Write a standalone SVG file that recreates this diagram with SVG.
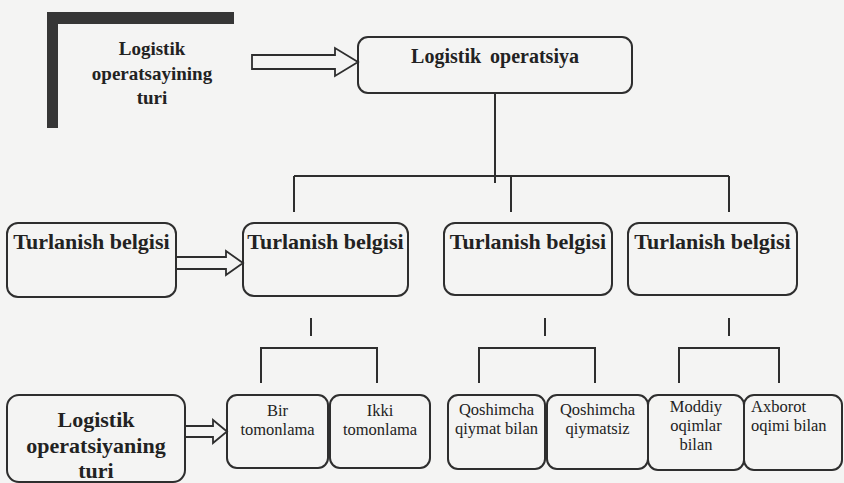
<svg xmlns="http://www.w3.org/2000/svg" width="844" height="483" viewBox="0 0 844 483">
<style>
.box{fill:none;stroke:#2e2e2e;stroke-width:2}
.ln{fill:none;stroke:#2e2e2e;stroke-width:2}
.arr{fill:none;stroke:#2e2e2e;stroke-width:1.8;stroke-linejoin:miter}
.b{font-family:"Liberation Serif","Times New Roman",serif;font-weight:bold;fill:#222;text-anchor:middle}
.r{font-family:"Liberation Serif","Times New Roman",serif;font-size:16.5px;fill:#222;text-anchor:middle}
.rs{font-family:"Liberation Serif","Times New Roman",serif;font-size:16.5px;fill:#222;text-anchor:start}
</style>
<rect x="0" y="0" width="844" height="483" fill="#f4f4f3"/>

<g id="title-label">
  <rect x="47" y="12" width="187" height="12" fill="#363636"/>
  <rect x="47" y="12" width="11" height="116" fill="#363636"/>
  <text class="b" x="152" y="55" font-size="19">Logistik</text>
  <text class="b" x="152" y="80" font-size="19">operatsayining</text>
  <text class="b" x="152" y="104" font-size="19">turi</text>
</g>

<g id="logistik-operatsiya">
  <rect class="box" x="358" y="37" width="274" height="56" rx="10"/>
  <text class="b" x="495" y="63" font-size="20" word-spacing="4">Logistik operatsiya</text>
</g>

<g id="turlanish-0">
  <rect class="box" x="7" y="223" width="169" height="74" rx="11"/>
  <text class="b" x="91.5" y="249" font-size="22">Turlanish belgisi</text>
</g>
<g id="turlanish-1">
  <rect class="box" x="243" y="223" width="165" height="73" rx="11"/>
  <text class="b" x="325.5" y="249" font-size="22">Turlanish belgisi</text>
</g>
<g id="turlanish-2">
  <rect class="box" x="444" y="223" width="168" height="72" rx="11"/>
  <text class="b" x="528" y="249" font-size="22">Turlanish belgisi</text>
</g>
<g id="turlanish-3">
  <rect class="box" x="628" y="223" width="169" height="72" rx="11"/>
  <text class="b" x="712.5" y="249" font-size="22">Turlanish belgisi</text>
</g>

<g id="logistik-operatsiyaning-turi">
  <rect class="box" x="7" y="395" width="178" height="87" rx="12"/>
  <text class="b" x="96" y="427" font-size="22">Logistik</text>
  <text class="b" x="96" y="453" font-size="22">operatsiyaning</text>
  <text class="b" x="96" y="478" font-size="22">turi</text>
</g>

<g id="bir-tomonlama">
  <rect class="box" x="227" y="395" width="101" height="73" rx="10"/>
  <text class="r" x="277.5" y="416">Bir</text>
  <text class="r" x="277.5" y="435">tomonlama</text>
</g>
<g id="ikki-tomonlama">
  <rect class="box" x="330" y="395" width="100" height="73" rx="10"/>
  <text class="r" x="380" y="416">Ikki</text>
  <text class="r" x="380" y="435">tomonlama</text>
</g>
<g id="qoshimcha-qiymat-bilan">
  <rect class="box" x="448" y="395" width="97" height="74" rx="10"/>
  <text class="r" x="496.5" y="415">Qoshimcha</text>
  <text class="r" x="496.5" y="434">qiymat bilan</text>
</g>
<g id="qoshimcha-qiymatsiz">
  <rect class="box" x="547" y="395" width="101" height="74" rx="10"/>
  <text class="r" x="597.5" y="415">Qoshimcha</text>
  <text class="r" x="597.5" y="434">qiymatsiz</text>
</g>
<g id="moddiy-oqimlar-bilan">
  <rect class="box" x="648" y="395" width="96" height="75" rx="10"/>
  <text class="r" x="696" y="412">Moddiy</text>
  <text class="r" x="696" y="431">oqimlar</text>
  <text class="r" x="696" y="450">bilan</text>
</g>
<g id="axborot-oqimi-bilan">
  <rect class="box" x="744" y="395" width="98" height="75" rx="10"/>
  <text class="rs" x="751" y="412">Axborot</text>
  <text class="rs" x="751" y="431">oqimi bilan</text>
</g>

<g id="connectors">
  <path class="ln" d="M495 93 V183 M294 176 H729 M294 176 V212 M511 176 V212 M729 176 V212"/>
  <path class="ln" d="M311 318 V336 M545 318 V336 M729 318 V336"/>
  <path class="ln" d="M261 383 V348 H377 V383 M479 383 V348 H595 V383 M679 383 V348 H779 V383"/>
  <path class="arr" d="M252 55 H335 V48 L358 62 L335 76 V69 H252 Z"/>
  <path class="arr" d="M176 257 H226 V251 L243 263 L226 275 V269 H176"/>
  <path class="arr" d="M185 426 H213 V420 L227 431.5 L213 443 V437 H185"/>
</g>
</svg>
